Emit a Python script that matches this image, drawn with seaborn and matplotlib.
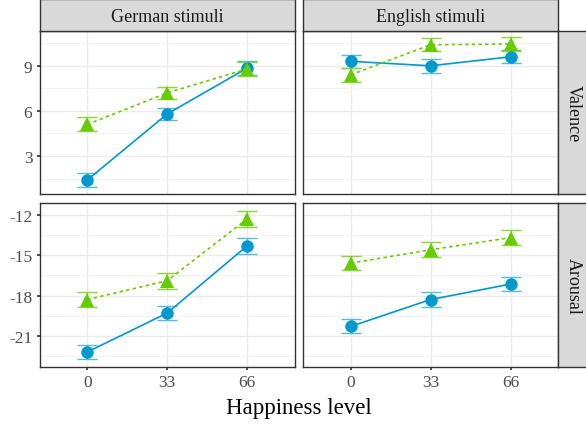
import numpy as np
import pandas as pd
import seaborn as sns
import matplotlib.pyplot as plt

# data
levels = [0, 33, 66]
stimuli = ["German stimuli", "English stimuli"]
measures = ["Valence", "Arousal"]

# blue (circle, solid) series
blue_val_de = [1.4, 5.8, 8.85]
blue_val_en = [9.3, 9.0, 9.6]
blue_aro_de = [-22.2, -19.3, -14.3]
blue_aro_en = [-20.3, -18.3, -17.15]
blue_err_val_de = [0.45, 0.42, 0.45]
blue_err_val_en = [0.42, 0.45, 0.44]
blue_err_aro_de = [0.54, 0.53, 0.58]
blue_err_aro_en = [0.52, 0.53, 0.55]

# green (triangle, dotted) series
green_val_de = [5.1, 7.2, 8.8]
green_val_en = [8.4, 10.4, 10.45]
green_aro_de = [-18.3, -16.9, -12.3]
green_aro_en = [-15.6, -14.6, -13.7]
green_err_val_de = [0.47, 0.4, 0.47]
green_err_val_en = [0.47, 0.44, 0.47]
green_err_aro_de = [0.56, 0.59, 0.6]
green_err_aro_en = [0.54, 0.56, 0.55]

rows = []
series = {
    ("Valence", "German stimuli"): (blue_val_de, blue_err_val_de, green_val_de, green_err_val_de),
    ("Valence", "English stimuli"): (blue_val_en, blue_err_val_en, green_val_en, green_err_val_en),
    ("Arousal", "German stimuli"): (blue_aro_de, blue_err_aro_de, green_aro_de, green_err_aro_de),
    ("Arousal", "English stimuli"): (blue_aro_en, blue_err_aro_en, green_aro_en, green_err_aro_en),
}
for (m, s), (bv, be, gv, ge) in series.items():
    for i, lv in enumerate(levels):
        rows.append(dict(measure=m, stimuli=s, level=lv, group="blue", value=bv[i], err=be[i]))
        rows.append(dict(measure=m, stimuli=s, level=lv, group="green", value=gv[i], err=ge[i]))
df = pd.DataFrame(rows)

sns.set_theme(style="whitegrid")
plt.rcParams['font.family'] = ['Liberation Serif', 'DejaVu Serif']
plt.rcParams['axes.unicode_minus'] = False

colors = {"blue": "#0099CC", "green": "#66CC00"}
ecolors = {"blue": "#55BBDD", "green": "#88D633"}
markers = {"blue": "o", "green": "^"}
styles = {"blue": "-", "green": (0, (2, 2))}

W, H = 586, 427
fig = plt.figure(figsize=(W / 100, H / 100), dpi=100)

col_x = [40 / W, 303.3 / W]
pw = 255 / W
row_y = [(1 - 195 / H), (1 - 367.7 / H)]
ph = 163.5 / H
ylims = {"Valence": (0.47, 11.35), "Arousal": (-23.29, -11.14)}
yticks = {"Valence": [3, 6, 9], "Arousal": [-21, -18, -15, -12]}
yminor = {"Valence": [1.5, 4.5, 7.5, 10.5], "Arousal": [-22.5, -19.5, -16.5, -13.5]}

for r, m in enumerate(measures):
    for c, s in enumerate(stimuli):
        ax = fig.add_axes([col_x[c], row_y[r], pw, ph])
        sub = df[(df.measure == m) & (df.stimuli == s)]
        for g in ["blue", "green"]:
            d = sub[sub.group == g]
            ax.errorbar(d.level, d.value, yerr=d.err, fmt="none", ecolor=ecolors[g],
                        elinewidth=1.0, capsize=7, capthick=1.0, zorder=2)
            sns.lineplot(data=d, x="level", y="value", ax=ax, color=colors[g],
                         linestyle=styles[g], linewidth=1.2, marker=markers[g],
                         markersize=9 if g == "blue" else 10.5, markeredgewidth=0,
                         legend=False, zorder=3)
        ax.set_xlim(-19.5, 85.7)
        ax.set_ylim(*ylims[m])
        ax.set_xticks(levels)
        ax.set_yticks(yticks[m])
        ax.set_yticks(yminor[m], minor=True)
        ax.grid(True, which="major", color="#EBEBEB", linewidth=1.0)
        ax.grid(True, which="minor", axis="y", color="#F3F3F3", linewidth=0.7)
        ax.set_axisbelow(True)
        ax.set_xlabel("")
        ax.set_ylabel("")
        for sp in ax.spines.values():
            sp.set_color("#333333")
            sp.set_linewidth(1.0)
        ax.tick_params(which="major", length=2.5, color="#333333", labelcolor="#4D4D4D",
                       labelsize=12.5, pad=3, left=(c == 0), bottom=(r == 1))
        ax.tick_params(which="minor", length=0)
        if c == 1:
            ax.set_yticklabels([])
        if r == 0:
            ax.set_xticklabels([])

        # top strips
        if r == 0:
            sax = fig.add_axes([col_x[c], 1 - 31.7 / H, pw, 31.7 / H])
            sax.set_facecolor("#D9D9D9")
            sax.set_xticks([]); sax.set_yticks([])
            for sp in sax.spines.values():
                sp.set_color("#333333"); sp.set_linewidth(1.0)
            sax.text(0.5, 0.45, s, ha="center", va="center", fontsize=13, color="#1A1A1A",
                     transform=sax.transAxes)
        # right strips
        if c == 1:
            sax = fig.add_axes([558.3 / W, row_y[r], 30 / W, ph])
            sax.set_facecolor("#D9D9D9")
            sax.set_xticks([]); sax.set_yticks([])
            for sp in sax.spines.values():
                sp.set_color("#333333"); sp.set_linewidth(1.0)
            sax.text(0.5, 0.5, m, ha="center", va="center", rotation=-90, fontsize=13,
                     color="#1A1A1A", transform=sax.transAxes)

fig.text((40 + 558.3) / 2 / W, 1 - 409 / H, "Happiness level", ha="center", va="center",
         fontsize=16.5, color="black")

fig.savefig("out.png", dpi=100)
